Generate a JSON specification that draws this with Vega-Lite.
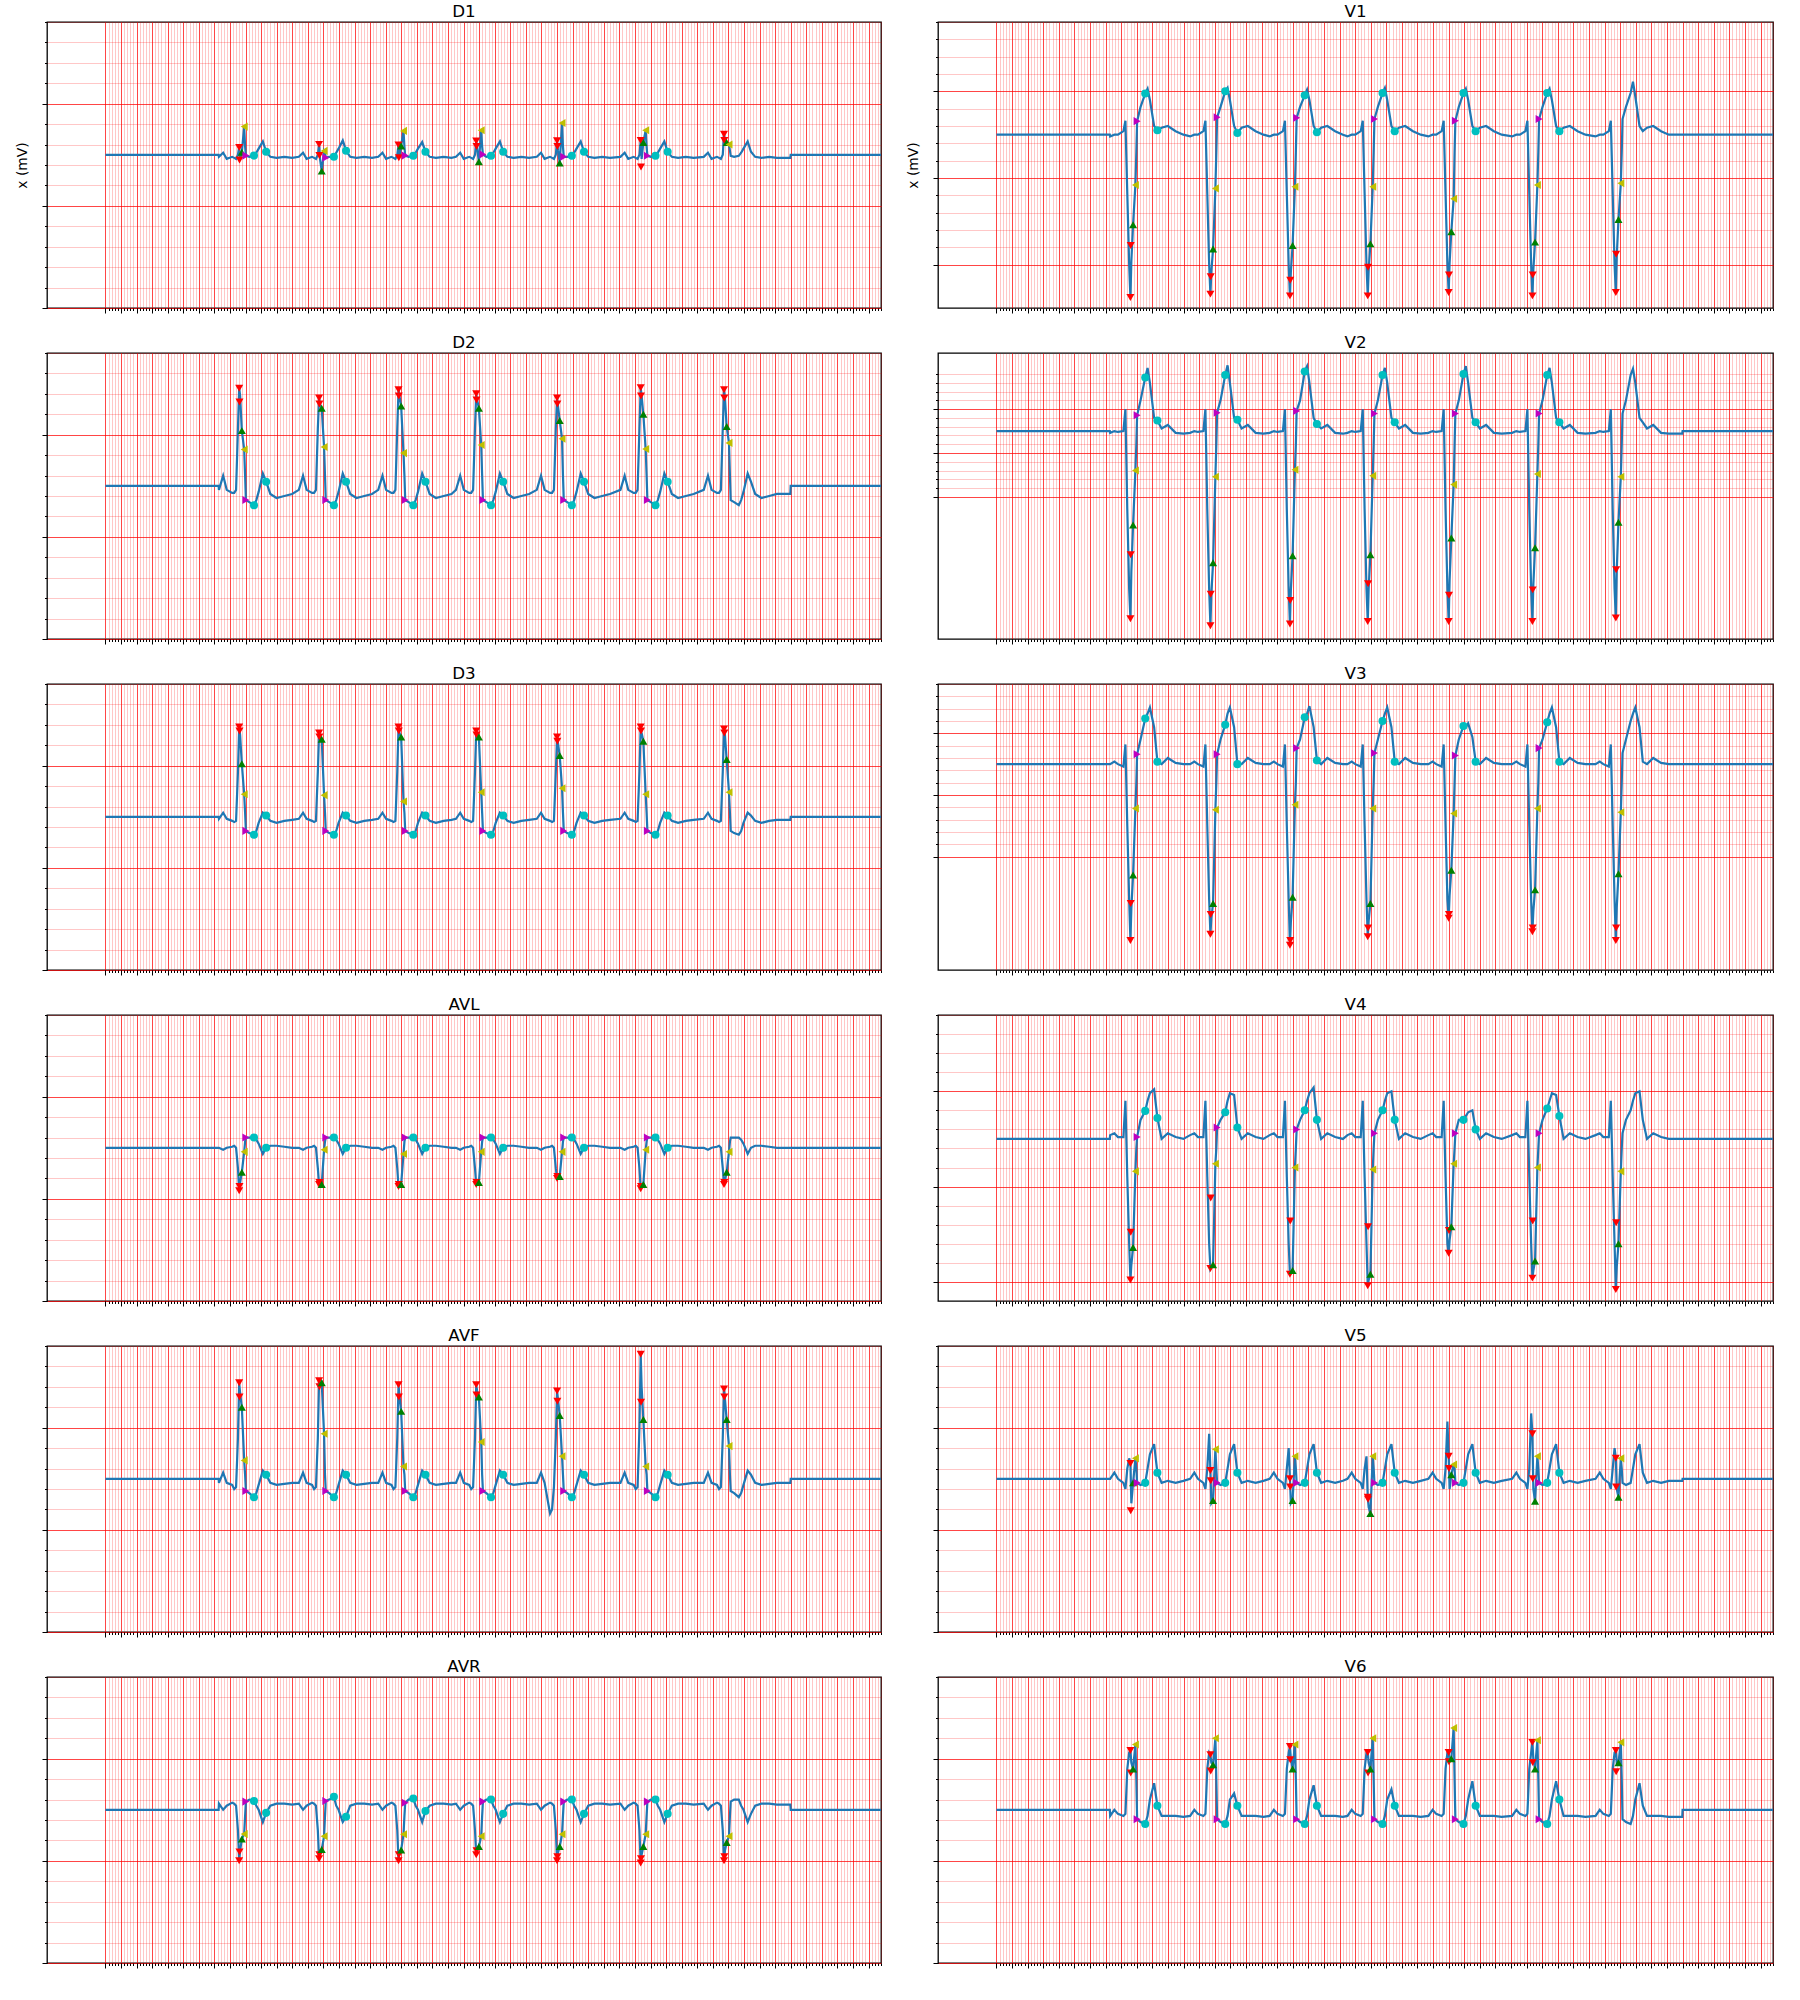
{
"$schema":"https://vega.github.io/schema/vega-lite/v6.json",
"padding":{"left":14,"top":3,"right":5,"bottom":5},
"bounds":"flush",
"columns":2,
"spacing":{"row":45,"column":57},
"config":{
"font":"DejaVu Sans",
"view":{"stroke":"black","strokeWidth":1.3},
"axis":{"labels":false,"domain":false,"tickColor":"black","tickWidth":1,"gridWidth":1,"titleFont":"DejaVu Sans","titleFontSize":13.9,"titleFontWeight":"normal","titleColor":"black","titlePadding":12},
"title":{"font":"DejaVu Sans","fontSize":16.7,"fontWeight":"normal","color":"black","offset":1,"frame":"group","anchor":"middle","baseline":"bottom"},
"line":{"color":"#1f77b4","strokeWidth":2.2},
"point":{"filled":true,"size":65,"opacity":1,"strokeWidth":0}
},
"datasets":{
"sig":[
{"n":0,"D1":0,"D2":0,"D3":0,"AVL":0,"AVF":0,"AVR":0,"V1":0,"V2":0,"V3":0,"V4":0,"V5":0,"V6":0},
{"n":727,"D1":0,"D2":0,"D3":0,"AVL":0,"AVF":0,"AVR":0,"V1":0,"V2":0,"V3":0,"V4":0,"V5":0,"V6":0},
{"n":729,"D1":-0.01,"D2":-0.02,"D3":-0.01,"AVL":0,"AVF":-0.02,"AVR":0.03,"V1":-0.01,"V2":-0.02,"V3":0,"V4":0.02,"V5":0,"V6":-0.03},
{"n":756,"D1":0.01,"D2":0.05,"D3":0.02,"AVL":-0.01,"AVF":0.03,"AVR":0,"V1":0,"V2":0,"V3":0.02,"V4":0.03,"V5":0.03,"V6":0},
{"n":779,"D1":-0.02,"D2":-0.02,"D3":-0.01,"AVL":0,"AVF":-0.02,"AVR":0.02,"V1":0,"V2":-0.01,"V3":0,"V4":0.01,"V5":0,"V6":-0.02},
{"n":814,"D1":-0.01,"D2":-0.035,"D3":-0.02,"AVL":0.005,"AVF":-0.03,"AVR":0.035,"V1":0.02,"V2":0,"V3":-0.02,"V4":0.01,"V5":-0.02,"V6":-0.03},
{"n":827,"D1":-0.015,"D2":-0.035,"D3":-0.025,"AVL":0.01,"AVF":-0.05,"AVR":0.03,"V1":0.08,"V2":0.25,"V3":0.16,"V4":0.2,"V5":-0.05,"V6":-0.02},
{"n":839,"D1":-0.02,"D2":-0.02,"D3":-0.02,"AVL":0,"AVF":-0.04,"AVR":0.02,"V1":-0.34,"V2":-0.9,"V3":-0.5,"V4":-0.2,"V5":0.05,"V6":0.2},
{"n":851,"D1":0,"D2":0.28,"D3":0.22,"AVL":-0.1,"AVF":0.2,"AVR":-0.1,"V1":-0.75,"V2":-1.8,"V3":-1.1,"V4":-0.55,"V5":0.1,"V6":0.28},
{"n":859,"D1":0.036,"D2":0.478,"D3":0.44,"AVL":-0.21,"AVF":0.47,"AVR":-0.25,"V1":-0.94,"V2":-2.14,"V3":-1.43,"V4":-0.74,"V5":0.075,"V6":0.29},
{"n":865,"D1":-0.02,"D2":0.44,"D3":0.4,"AVL":-0.17,"AVF":0.42,"AVR":-0.2,"V1":-0.73,"V2":-1.6,"V3":-1.17,"V4":-0.66,"V5":-0.12,"V6":0.23},
{"n":876,"D1":0.012,"D2":0.27,"D3":0.26,"AVL":-0.12,"AVF":0.35,"AVR":-0.143,"V1":-0.52,"V2":-1.07,"V3":-0.9,"V4":-0.57,"V5":-0.02,"V6":0.2},
{"n":891,"D1":0.138,"D2":0.178,"D3":0.11,"AVL":-0.02,"AVF":0.09,"AVR":-0.119,"V1":-0.29,"V2":-0.45,"V3":-0.36,"V4":-0.17,"V5":0.1,"V6":0.32},
{"n":897,"D1":0.04,"D2":0.05,"D3":0.02,"AVL":0.03,"AVF":0.02,"AVR":-0.03,"V1":-0.1,"V2":-0.15,"V3":-0.15,"V4":-0.05,"V5":0.05,"V6":0.15},
{"n":902,"D1":-0.004,"D2":-0.07,"D3":-0.069,"AVL":0.05,"AVF":-0.06,"AVR":0.04,"V1":0.078,"V2":0.18,"V3":0.08,"V4":0.01,"V5":-0.02,"V6":-0.046},
{"n":924,"D1":-0.01,"D2":-0.08,"D3":-0.08,"AVL":0.05,"AVF":-0.07,"AVR":0.05,"V1":0.16,"V2":0.35,"V3":0.2,"V4":0.1,"V5":-0.03,"V6":-0.06},
{"n":954,"D1":-0.004,"D2":-0.095,"D3":-0.088,"AVL":0.05,"AVF":-0.09,"AVR":0.043,"V1":0.237,"V2":0.61,"V3":0.37,"V4":0.147,"V5":-0.02,"V6":-0.07},
{"n":969,"D1":0.01,"D2":-0.07,"D3":-0.07,"AVL":0.04,"AVF":-0.07,"AVR":0.02,"V1":0.265,"V2":0.72,"V3":0.41,"V4":0.2,"V5":0.05,"V6":-0.03},
{"n":984,"D1":0.03,"D2":-0.03,"D3":-0.03,"AVL":0.02,"AVF":-0.03,"AVR":0,"V1":0.2,"V2":0.55,"V3":0.46,"V4":0.24,"V5":0.12,"V6":0.05},
{"n":1011,"D1":0.065,"D2":0.06,"D3":0.02,"AVL":-0.03,"AVF":0.04,"AVR":-0.06,"V1":0.05,"V2":0.15,"V3":0.3,"V4":0.26,"V5":0.17,"V6":0.13},
{"n":1032,"D1":0.015,"D2":0.02,"D3":0.006,"AVL":0,"AVF":0.02,"AVR":-0.015,"V1":0.026,"V2":0.12,"V3":0.02,"V4":0.11,"V5":0.03,"V6":0.02},
{"n":1059,"D1":-0.01,"D2":-0.04,"D3":-0.02,"AVL":0.01,"AVF":-0.02,"AVR":0.02,"V1":0.04,"V2":0.03,"V3":0,"V4":0,"V5":-0.02,"V6":-0.03},
{"n":1099,"D1":-0.015,"D2":-0.06,"D3":-0.03,"AVL":0.01,"AVF":-0.03,"AVR":0.03,"V1":0.05,"V2":0.07,"V3":0.05,"V4":0.03,"V5":-0.01,"V6":-0.03},
{"n":1149,"D1":-0.01,"D2":-0.05,"D3":-0.02,"AVL":0.005,"AVF":-0.025,"AVR":0.03,"V1":0.02,"V2":-0.02,"V3":0.01,"V4":0.01,"V5":-0.02,"V6":-0.03},
{"n":1199,"D1":-0.015,"D2":-0.04,"D3":-0.015,"AVL":0,"AVF":-0.02,"AVR":0.025,"V1":0,"V2":-0.03,"V3":0,"V4":0,"V5":-0.01,"V6":-0.035},
{"n":1242,"D1":-0.01,"D2":-0.02,"D3":-0.01,"AVL":0,"AVF":-0.02,"AVR":0.03,"V1":-0.01,"V2":-0.02,"V3":0,"V4":0.02,"V5":0,"V6":-0.03},
{"n":1269,"D1":0.01,"D2":0.05,"D3":0.02,"AVL":-0.01,"AVF":0.03,"AVR":0,"V1":0,"V2":0,"V3":0.02,"V4":0.03,"V5":0.03,"V6":0},
{"n":1292,"D1":-0.02,"D2":-0.02,"D3":-0.01,"AVL":0,"AVF":-0.02,"AVR":0.02,"V1":0,"V2":-0.01,"V3":0,"V4":0.01,"V5":0,"V6":-0.02},
{"n":1327,"D1":-0.01,"D2":-0.035,"D3":-0.02,"AVL":0.005,"AVF":-0.03,"AVR":0.035,"V1":0.02,"V2":0,"V3":-0.02,"V4":0.01,"V5":-0.02,"V6":-0.03},
{"n":1340,"D1":-0.015,"D2":-0.035,"D3":-0.025,"AVL":0.01,"AVF":-0.05,"AVR":0.03,"V1":0.08,"V2":0.25,"V3":0.16,"V4":0.2,"V5":-0.05,"V6":-0.02},
{"n":1352,"D1":-0.02,"D2":-0.02,"D3":-0.02,"AVL":0,"AVF":-0.04,"AVR":0.02,"V1":-0.34,"V2":-0.9,"V3":-0.5,"V4":-0.2,"V5":0.05,"V6":0.2},
{"n":1364,"D1":0,"D2":0.28,"D3":0.22,"AVL":-0.1,"AVF":0.2,"AVR":-0.1,"V1":-0.75,"V2":-1.8,"V3":-1.1,"V4":-0.55,"V5":0.22,"V6":0.28},
{"n":1372,"D1":0.051,"D2":0.43,"D3":0.41,"AVL":-0.18,"AVF":0.48,"AVR":-0.24,"V1":-0.92,"V2":-2.22,"V3":-1.38,"V4":-0.68,"V5":0.04,"V6":0.27},
{"n":1378,"D1":-0.02,"D2":0.4,"D3":0.38,"AVL":-0.17,"AVF":0.46,"AVR":-0.2,"V1":-0.79,"V2":-1.86,"V3":-1.25,"V4":-0.67,"V5":-0.12,"V6":0.23},
{"n":1389,"D1":-0.08,"D2":0.38,"D3":0.38,"AVL":-0.18,"AVF":0.47,"AVR":-0.194,"V1":-0.66,"V2":-1.5,"V3":-1.13,"V4":-0.66,"V5":-0.106,"V6":0.22},
{"n":1404,"D1":0.019,"D2":0.19,"D3":0.106,"AVL":-0.01,"AVF":0.22,"AVR":-0.13,"V1":-0.31,"V2":-0.52,"V3":-0.37,"V4":-0.13,"V5":0.144,"V6":0.35},
{"n":1410,"D1":0.01,"D2":0.05,"D3":0.02,"AVL":0.03,"AVF":0.02,"AVR":-0.03,"V1":-0.1,"V2":-0.15,"V3":-0.15,"V4":-0.05,"V5":0.05,"V6":0.15},
{"n":1415,"D1":-0.014,"D2":-0.07,"D3":-0.069,"AVL":0.05,"AVF":-0.06,"AVR":0.043,"V1":0.1,"V2":0.21,"V3":0.08,"V4":0.06,"V5":-0.02,"V6":-0.046},
{"n":1437,"D1":-0.01,"D2":-0.08,"D3":-0.08,"AVL":0.05,"AVF":-0.07,"AVR":0.05,"V1":0.16,"V2":0.35,"V3":0.2,"V4":0.1,"V5":-0.03,"V6":-0.06},
{"n":1467,"D1":-0.01,"D2":-0.095,"D3":-0.088,"AVL":0.05,"AVF":-0.09,"AVR":0.064,"V1":0.25,"V2":0.64,"V3":0.32,"V4":0.14,"V5":-0.02,"V6":-0.07},
{"n":1482,"D1":0.01,"D2":-0.07,"D3":-0.07,"AVL":0.04,"AVF":-0.07,"AVR":0.02,"V1":0.27,"V2":0.75,"V3":0.41,"V4":0.2,"V5":0.05,"V6":-0.03},
{"n":1497,"D1":0.03,"D2":-0.03,"D3":-0.03,"AVL":0.02,"AVF":-0.03,"AVR":0,"V1":0.2,"V2":0.55,"V3":0.46,"V4":0.24,"V5":0.12,"V6":0.05},
{"n":1524,"D1":0.07,"D2":0.06,"D3":0.02,"AVL":-0.03,"AVF":0.04,"AVR":-0.06,"V1":0.05,"V2":0.15,"V3":0.3,"V4":0.23,"V5":0.17,"V6":0.08},
{"n":1545,"D1":0.02,"D2":0.02,"D3":0.006,"AVL":0,"AVF":0.02,"AVR":-0.034,"V1":0.01,"V2":0.13,"V3":0,"V4":0.06,"V5":0.03,"V6":0.02},
{"n":1572,"D1":-0.01,"D2":-0.04,"D3":-0.02,"AVL":0.01,"AVF":-0.02,"AVR":0.02,"V1":0.04,"V2":0.03,"V3":0,"V4":0,"V5":-0.02,"V6":-0.03},
{"n":1612,"D1":-0.015,"D2":-0.06,"D3":-0.03,"AVL":0.01,"AVF":-0.03,"AVR":0.03,"V1":0.05,"V2":0.07,"V3":0.05,"V4":0.03,"V5":-0.01,"V6":-0.03},
{"n":1662,"D1":-0.01,"D2":-0.05,"D3":-0.02,"AVL":0.005,"AVF":-0.025,"AVR":0.03,"V1":0.02,"V2":-0.02,"V3":0.01,"V4":0.01,"V5":-0.02,"V6":-0.03},
{"n":1712,"D1":-0.015,"D2":-0.04,"D3":-0.015,"AVL":0,"AVF":-0.02,"AVR":0.025,"V1":0,"V2":-0.03,"V3":0,"V4":0,"V5":-0.01,"V6":-0.035},
{"n":1752,"D1":-0.01,"D2":-0.02,"D3":-0.01,"AVL":0,"AVF":-0.02,"AVR":0.03,"V1":-0.01,"V2":-0.02,"V3":0,"V4":0.02,"V5":0,"V6":-0.03},
{"n":1779,"D1":0.01,"D2":0.05,"D3":0.02,"AVL":-0.01,"AVF":0.03,"AVR":0,"V1":0,"V2":0,"V3":0.02,"V4":0.03,"V5":0.03,"V6":0},
{"n":1802,"D1":-0.02,"D2":-0.02,"D3":-0.01,"AVL":0,"AVF":-0.02,"AVR":0.02,"V1":0,"V2":-0.01,"V3":0,"V4":0.01,"V5":0,"V6":-0.02},
{"n":1837,"D1":-0.01,"D2":-0.035,"D3":-0.02,"AVL":0.005,"AVF":-0.03,"AVR":0.035,"V1":0.02,"V2":0,"V3":-0.02,"V4":0.01,"V5":-0.02,"V6":-0.03},
{"n":1850,"D1":-0.015,"D2":-0.035,"D3":-0.025,"AVL":0.01,"AVF":-0.05,"AVR":0.03,"V1":0.08,"V2":0.25,"V3":0.16,"V4":0.2,"V5":-0.05,"V6":-0.02},
{"n":1862,"D1":-0.02,"D2":-0.02,"D3":-0.02,"AVL":0,"AVF":-0.04,"AVR":0.02,"V1":-0.34,"V2":-0.9,"V3":-0.5,"V4":-0.2,"V5":0.05,"V6":0.2},
{"n":1874,"D1":0,"D2":0.28,"D3":0.22,"AVL":-0.1,"AVF":0.2,"AVR":-0.1,"V1":-0.75,"V2":-1.8,"V3":-1.1,"V4":-0.55,"V5":0.15,"V6":0.28},
{"n":1882,"D1":0.048,"D2":0.47,"D3":0.44,"AVL":-0.19,"AVF":0.46,"AVR":-0.25,"V1":-0.93,"V2":-2.2,"V3":-1.47,"V4":-0.71,"V5":0,"V6":0.31},
{"n":1888,"D1":-0.01,"D2":0.44,"D3":0.41,"AVL":-0.18,"AVF":0.41,"AVR":-0.21,"V1":-0.79,"V2":-1.81,"V3":-1.28,"V4":-0.7,"V5":-0.12,"V6":0.25},
{"n":1899,"D1":0.043,"D2":0.39,"D3":0.39,"AVL":-0.18,"AVF":0.33,"AVR":-0.197,"V1":-0.64,"V2":-1.42,"V3":-1.08,"V4":-0.69,"V5":-0.106,"V6":0.2},
{"n":1914,"D1":0.117,"D2":0.16,"D3":0.075,"AVL":-0.03,"AVF":0.06,"AVR":-0.12,"V1":-0.3,"V2":-0.44,"V3":-0.33,"V4":-0.15,"V5":0.11,"V6":0.32},
{"n":1920,"D1":0.04,"D2":0.05,"D3":0.02,"AVL":0.03,"AVF":0.02,"AVR":-0.03,"V1":-0.1,"V2":-0.15,"V3":-0.15,"V4":-0.05,"V5":0.05,"V6":0.15},
{"n":1925,"D1":-0.004,"D2":-0.07,"D3":-0.069,"AVL":0.05,"AVF":-0.06,"AVR":0.034,"V1":0.097,"V2":0.23,"V3":0.13,"V4":0.05,"V5":-0.02,"V6":-0.046},
{"n":1947,"D1":-0.01,"D2":-0.08,"D3":-0.08,"AVL":0.05,"AVF":-0.07,"AVR":0.05,"V1":0.16,"V2":0.35,"V3":0.2,"V4":0.1,"V5":-0.03,"V6":-0.06},
{"n":1977,"D1":-0.005,"D2":-0.095,"D3":-0.088,"AVL":0.05,"AVF":-0.09,"AVR":0.055,"V1":0.227,"V2":0.68,"V3":0.38,"V4":0.15,"V5":-0.02,"V6":-0.07},
{"n":1992,"D1":0.01,"D2":-0.07,"D3":-0.07,"AVL":0.04,"AVF":-0.07,"AVR":0.02,"V1":0.26,"V2":0.74,"V3":0.41,"V4":0.2,"V5":0.05,"V6":-0.03},
{"n":2007,"D1":0.03,"D2":-0.03,"D3":-0.03,"AVL":0.02,"AVF":-0.03,"AVR":0,"V1":0.2,"V2":0.55,"V3":0.47,"V4":0.24,"V5":0.12,"V6":0.05},
{"n":2034,"D1":0.062,"D2":0.06,"D3":0.02,"AVL":-0.03,"AVF":0.04,"AVR":-0.06,"V1":0.05,"V2":0.15,"V3":0.3,"V4":0.27,"V5":0.17,"V6":0.12},
{"n":2055,"D1":0.015,"D2":0.02,"D3":0.006,"AVL":0,"AVF":0.02,"AVR":-0.006,"V1":0.014,"V2":0.08,"V3":0.03,"V4":0.1,"V5":0.03,"V6":0.02},
{"n":2082,"D1":-0.01,"D2":-0.04,"D3":-0.02,"AVL":0.01,"AVF":-0.02,"AVR":0.02,"V1":0.04,"V2":0.03,"V3":0,"V4":0,"V5":-0.02,"V6":-0.03},
{"n":2122,"D1":-0.015,"D2":-0.06,"D3":-0.03,"AVL":0.01,"AVF":-0.03,"AVR":0.03,"V1":0.05,"V2":0.07,"V3":0.05,"V4":0.03,"V5":-0.01,"V6":-0.03},
{"n":2172,"D1":-0.01,"D2":-0.05,"D3":-0.02,"AVL":0.005,"AVF":-0.025,"AVR":0.03,"V1":0.02,"V2":-0.02,"V3":0.01,"V4":0.01,"V5":-0.02,"V6":-0.03},
{"n":2222,"D1":-0.015,"D2":-0.04,"D3":-0.015,"AVL":0,"AVF":-0.02,"AVR":0.025,"V1":0,"V2":-0.03,"V3":0,"V4":0,"V5":-0.01,"V6":-0.035},
{"n":2251,"D1":-0.01,"D2":-0.02,"D3":-0.01,"AVL":0,"AVF":-0.02,"AVR":0.03,"V1":-0.01,"V2":-0.02,"V3":0,"V4":0.02,"V5":0,"V6":-0.03},
{"n":2278,"D1":0.01,"D2":0.05,"D3":0.02,"AVL":-0.01,"AVF":0.03,"AVR":0,"V1":0,"V2":0,"V3":0.02,"V4":0.03,"V5":0.03,"V6":0},
{"n":2301,"D1":-0.02,"D2":-0.02,"D3":-0.01,"AVL":0,"AVF":-0.02,"AVR":0.02,"V1":0,"V2":-0.01,"V3":0,"V4":0.01,"V5":0,"V6":-0.02},
{"n":2336,"D1":-0.01,"D2":-0.035,"D3":-0.02,"AVL":0.005,"AVF":-0.03,"AVR":0.035,"V1":0.02,"V2":0,"V3":-0.02,"V4":0.01,"V5":-0.02,"V6":-0.03},
{"n":2349,"D1":-0.015,"D2":-0.035,"D3":-0.025,"AVL":0.01,"AVF":-0.05,"AVR":0.03,"V1":0.08,"V2":0.25,"V3":0.16,"V4":0.2,"V5":-0.05,"V6":-0.02},
{"n":2361,"D1":-0.02,"D2":-0.02,"D3":-0.02,"AVL":0,"AVF":-0.04,"AVR":0.02,"V1":-0.34,"V2":-0.9,"V3":-0.5,"V4":-0.2,"V5":0.05,"V6":0.2},
{"n":2373,"D1":0,"D2":0.28,"D3":0.22,"AVL":-0.1,"AVF":0.2,"AVR":-0.1,"V1":-0.75,"V2":-1.8,"V3":-1.1,"V4":-0.55,"V5":0.11,"V6":0.28},
{"n":2381,"D1":0.068,"D2":0.45,"D3":0.42,"AVL":-0.18,"AVF":0.46,"AVR":-0.22,"V1":-0.93,"V2":-2.17,"V3":-1.4,"V4":-0.77,"V5":-0.09,"V6":0.28},
{"n":2387,"D1":0.03,"D2":0.42,"D3":0.4,"AVL":-0.17,"AVF":0.43,"AVR":-0.2,"V1":-0.78,"V2":-1.79,"V3":-1.27,"V4":-0.74,"V5":-0.14,"V6":0.23},
{"n":2398,"D1":-0.034,"D2":0.38,"D3":0.39,"AVL":-0.17,"AVF":0.4,"AVR":-0.18,"V1":-0.63,"V2":-1.41,"V3":-1.13,"V4":-0.71,"V5":-0.17,"V6":0.2},
{"n":2413,"D1":0.12,"D2":0.2,"D3":0.12,"AVL":-0.02,"AVF":0.18,"AVR":-0.13,"V1":-0.3,"V2":-0.51,"V3":-0.36,"V4":-0.16,"V5":0.11,"V6":0.35},
{"n":2419,"D1":0.04,"D2":0.05,"D3":0.02,"AVL":0.03,"AVF":0.02,"AVR":-0.03,"V1":-0.1,"V2":-0.15,"V3":-0.15,"V4":-0.05,"V5":0.05,"V6":0.15},
{"n":2424,"D1":0.002,"D2":-0.07,"D3":-0.069,"AVL":0.05,"AVF":-0.06,"AVR":0.04,"V1":0.09,"V2":0.2,"V3":0.09,"V4":0.03,"V5":-0.02,"V6":-0.046},
{"n":2446,"D1":-0.01,"D2":-0.08,"D3":-0.08,"AVL":0.05,"AVF":-0.07,"AVR":0.05,"V1":0.16,"V2":0.35,"V3":0.2,"V4":0.1,"V5":-0.03,"V6":-0.06},
{"n":2476,"D1":-0.005,"D2":-0.095,"D3":-0.088,"AVL":0.05,"AVF":-0.09,"AVR":0.05,"V1":0.24,"V2":0.64,"V3":0.35,"V4":0.15,"V5":-0.02,"V6":-0.07},
{"n":2491,"D1":0.01,"D2":-0.07,"D3":-0.07,"AVL":0.04,"AVF":-0.07,"AVR":0.02,"V1":0.27,"V2":0.72,"V3":0.41,"V4":0.2,"V5":0.05,"V6":-0.03},
{"n":2506,"D1":0.03,"D2":-0.03,"D3":-0.03,"AVL":0.02,"AVF":-0.03,"AVR":0,"V1":0.2,"V2":0.55,"V3":0.46,"V4":0.24,"V5":0.12,"V6":0.05},
{"n":2533,"D1":0.065,"D2":0.06,"D3":0.02,"AVL":-0.03,"AVF":0.04,"AVR":-0.06,"V1":0.05,"V2":0.15,"V3":0.3,"V4":0.25,"V5":0.17,"V6":0.1},
{"n":2554,"D1":0.015,"D2":0.02,"D3":0.006,"AVL":0,"AVF":0.02,"AVR":-0.02,"V1":0.02,"V2":0.1,"V3":0.02,"V4":0.1,"V5":0.03,"V6":0.02},
{"n":2581,"D1":-0.01,"D2":-0.04,"D3":-0.02,"AVL":0.01,"AVF":-0.02,"AVR":0.02,"V1":0.04,"V2":0.03,"V3":0,"V4":0,"V5":-0.02,"V6":-0.03},
{"n":2621,"D1":-0.015,"D2":-0.06,"D3":-0.03,"AVL":0.01,"AVF":-0.03,"AVR":0.03,"V1":0.05,"V2":0.07,"V3":0.05,"V4":0.03,"V5":-0.01,"V6":-0.03},
{"n":2671,"D1":-0.01,"D2":-0.05,"D3":-0.02,"AVL":0.005,"AVF":-0.025,"AVR":0.03,"V1":0.02,"V2":-0.02,"V3":0.01,"V4":0.01,"V5":-0.02,"V6":-0.03},
{"n":2721,"D1":-0.015,"D2":-0.04,"D3":-0.015,"AVL":0,"AVF":-0.02,"AVR":0.025,"V1":0,"V2":-0.03,"V3":0,"V4":0,"V5":-0.01,"V6":-0.035},
{"n":2770,"D1":-0.01,"D2":-0.02,"D3":-0.01,"AVL":0,"AVF":-0.02,"AVR":0.03,"V1":-0.01,"V2":-0.02,"V3":0,"V4":0.02,"V5":0,"V6":-0.03},
{"n":2797,"D1":0.01,"D2":0.05,"D3":0.02,"AVL":-0.01,"AVF":0.03,"AVR":0,"V1":0,"V2":0,"V3":0.02,"V4":0.03,"V5":0.03,"V6":0},
{"n":2820,"D1":-0.02,"D2":-0.02,"D3":-0.01,"AVL":0,"AVF":-0.02,"AVR":0.02,"V1":0,"V2":-0.01,"V3":0,"V4":0.01,"V5":0,"V6":-0.02},
{"n":2855,"D1":-0.01,"D2":-0.035,"D3":-0.02,"AVL":0.005,"AVF":-0.17,"AVR":0.035,"V1":0.02,"V2":0,"V3":-0.02,"V4":0.01,"V5":-0.02,"V6":-0.03},
{"n":2868,"D1":-0.015,"D2":-0.035,"D3":-0.025,"AVL":0.01,"AVF":-0.15,"AVR":0.03,"V1":0.08,"V2":0.25,"V3":0.16,"V4":0.2,"V5":-0.05,"V6":-0.02},
{"n":2880,"D1":-0.02,"D2":-0.02,"D3":-0.02,"AVL":0,"AVF":-0.04,"AVR":0.02,"V1":-0.34,"V2":-0.9,"V3":-0.5,"V4":-0.2,"V5":0.05,"V6":0.2},
{"n":2892,"D1":0,"D2":0.28,"D3":0.22,"AVL":-0.1,"AVF":0.2,"AVR":-0.1,"V1":-0.75,"V2":-1.8,"V3":-1.1,"V4":-0.55,"V5":0.28,"V6":0.28},
{"n":2900,"D1":0.069,"D2":0.43,"D3":0.39,"AVL":-0.15,"AVF":0.43,"AVR":-0.25,"V1":-0.91,"V2":-2.17,"V3":-1.25,"V4":-0.6,"V5":0.11,"V6":0.28},
{"n":2906,"D1":0.02,"D2":0.39,"D3":0.36,"AVL":-0.15,"AVF":0.39,"AVR":-0.21,"V1":-0.74,"V2":-1.7,"V3":-1.06,"V4":-0.53,"V5":-0.05,"V6":0.24},
{"n":2917,"D1":-0.04,"D2":0.32,"D3":0.3,"AVL":-0.14,"AVF":0.31,"AVR":-0.18,"V1":-0.56,"V2":-1.22,"V3":-0.86,"V4":-0.46,"V5":0.02,"V6":0.25},
{"n":2932,"D1":0.156,"D2":0.23,"D3":0.14,"AVL":-0.02,"AVF":0.11,"AVR":-0.12,"V1":-0.37,"V2":-0.61,"V3":-0.4,"V4":-0.13,"V5":0.07,"V6":0.4},
{"n":2938,"D1":0.04,"D2":0.05,"D3":0.02,"AVL":0.03,"AVF":0.02,"AVR":-0.03,"V1":-0.1,"V2":-0.15,"V3":-0.15,"V4":-0.05,"V5":0.05,"V6":0.15},
{"n":2943,"D1":-0.01,"D2":-0.07,"D3":-0.069,"AVL":0.05,"AVF":-0.06,"AVR":0.04,"V1":0.08,"V2":0.2,"V3":0.07,"V4":0.03,"V5":-0.02,"V6":-0.046},
{"n":2965,"D1":-0.01,"D2":-0.08,"D3":-0.08,"AVL":0.05,"AVF":-0.07,"AVR":0.05,"V1":0.16,"V2":0.35,"V3":0.2,"V4":0.1,"V5":-0.03,"V6":-0.06},
{"n":2995,"D1":-0.005,"D2":-0.095,"D3":-0.088,"AVL":0.05,"AVF":-0.09,"AVR":0.05,"V1":0.24,"V2":0.65,"V3":0.31,"V4":0.1,"V5":-0.02,"V6":-0.07},
{"n":3010,"D1":0.01,"D2":-0.07,"D3":-0.07,"AVL":0.04,"AVF":-0.07,"AVR":0.02,"V1":0.265,"V2":0.74,"V3":0.3,"V4":0.12,"V5":0.05,"V6":-0.03},
{"n":3025,"D1":0.03,"D2":-0.03,"D3":-0.03,"AVL":0.02,"AVF":-0.03,"AVR":0,"V1":0.2,"V2":0.55,"V3":0.33,"V4":0.14,"V5":0.12,"V6":0.05},
{"n":3052,"D1":0.065,"D2":0.06,"D3":0.02,"AVL":-0.03,"AVF":0.04,"AVR":-0.06,"V1":0.05,"V2":0.15,"V3":0.22,"V4":0.15,"V5":0.17,"V6":0.14},
{"n":3073,"D1":0.015,"D2":0.02,"D3":0.006,"AVL":0,"AVF":0.02,"AVR":-0.02,"V1":0.02,"V2":0.1,"V3":0.02,"V4":0.05,"V5":0.03,"V6":0.02},
{"n":3100,"D1":-0.01,"D2":-0.04,"D3":-0.02,"AVL":0.01,"AVF":-0.02,"AVR":0.02,"V1":0.04,"V2":0.03,"V3":0,"V4":0,"V5":-0.02,"V6":-0.03},
{"n":3140,"D1":-0.015,"D2":-0.06,"D3":-0.03,"AVL":0.01,"AVF":-0.03,"AVR":0.03,"V1":0.05,"V2":0.07,"V3":0.05,"V4":0.03,"V5":-0.01,"V6":-0.03},
{"n":3190,"D1":-0.01,"D2":-0.05,"D3":-0.02,"AVL":0.005,"AVF":-0.025,"AVR":0.03,"V1":0.02,"V2":-0.02,"V3":0.01,"V4":0.01,"V5":-0.02,"V6":-0.03},
{"n":3240,"D1":-0.015,"D2":-0.04,"D3":-0.015,"AVL":0,"AVF":-0.02,"AVR":0.025,"V1":0,"V2":-0.03,"V3":0,"V4":0,"V5":-0.01,"V6":-0.035},
{"n":3307,"D1":-0.01,"D2":-0.02,"D3":-0.01,"AVL":0,"AVF":-0.02,"AVR":0.03,"V1":-0.01,"V2":-0.02,"V3":0,"V4":0.02,"V5":0,"V6":-0.03},
{"n":3334,"D1":0.01,"D2":0.05,"D3":0.02,"AVL":-0.01,"AVF":0.03,"AVR":0,"V1":0,"V2":0,"V3":0.02,"V4":0.03,"V5":0.03,"V6":0},
{"n":3357,"D1":-0.02,"D2":-0.02,"D3":-0.01,"AVL":0,"AVF":-0.02,"AVR":0.02,"V1":0,"V2":-0.01,"V3":0,"V4":0.01,"V5":0,"V6":-0.02},
{"n":3392,"D1":-0.01,"D2":-0.035,"D3":-0.02,"AVL":0.005,"AVF":-0.03,"AVR":0.035,"V1":0.02,"V2":0,"V3":-0.02,"V4":0.01,"V5":-0.02,"V6":-0.03},
{"n":3405,"D1":-0.015,"D2":-0.035,"D3":-0.025,"AVL":0.01,"AVF":-0.05,"AVR":0.03,"V1":0.08,"V2":0.25,"V3":0.16,"V4":0.2,"V5":-0.05,"V6":-0.02},
{"n":3417,"D1":-0.02,"D2":-0.02,"D3":-0.02,"AVL":0,"AVF":-0.04,"AVR":0.02,"V1":-0.34,"V2":-0.9,"V3":-0.5,"V4":-0.2,"V5":0.05,"V6":0.2},
{"n":3429,"D1":0,"D2":0.28,"D3":0.22,"AVL":-0.1,"AVF":0.25,"AVR":-0.1,"V1":-0.75,"V2":-1.8,"V3":-1.1,"V4":-0.55,"V5":0.32,"V6":0.28},
{"n":3437,"D1":0.07,"D2":0.48,"D3":0.44,"AVL":-0.2,"AVF":0.61,"AVR":-0.26,"V1":-0.93,"V2":-2.17,"V3":-1.36,"V4":-0.73,"V5":0.22,"V6":0.33},
{"n":3443,"D1":-0.02,"D2":0.44,"D3":0.41,"AVL":-0.19,"AVF":0.45,"AVR":-0.22,"V1":-0.78,"V2":-1.75,"V3":-1.19,"V4":-0.69,"V5":-0.05,"V6":0.25},
{"n":3454,"D1":0.06,"D2":0.35,"D3":0.37,"AVL":-0.18,"AVF":0.29,"AVR":-0.18,"V1":-0.62,"V2":-1.33,"V3":-1.02,"V4":-0.64,"V5":-0.11,"V6":0.2},
{"n":3469,"D1":0.12,"D2":0.18,"D3":0.11,"AVL":-0.01,"AVF":0.06,"AVR":-0.12,"V1":-0.29,"V2":-0.49,"V3":-0.36,"V4":-0.15,"V5":0.11,"V6":0.34},
{"n":3475,"D1":0.04,"D2":0.05,"D3":0.02,"AVL":0.03,"AVF":0.02,"AVR":-0.03,"V1":-0.1,"V2":-0.15,"V3":-0.15,"V4":-0.05,"V5":0.05,"V6":0.15},
{"n":3480,"D1":-0.005,"D2":-0.07,"D3":-0.069,"AVL":0.05,"AVF":-0.06,"AVR":0.04,"V1":0.09,"V2":0.2,"V3":0.13,"V4":0.03,"V5":-0.02,"V6":-0.046},
{"n":3502,"D1":-0.01,"D2":-0.08,"D3":-0.08,"AVL":0.05,"AVF":-0.07,"AVR":0.05,"V1":0.16,"V2":0.35,"V3":0.2,"V4":0.1,"V5":-0.03,"V6":-0.06},
{"n":3532,"D1":-0.005,"D2":-0.095,"D3":-0.088,"AVL":0.05,"AVF":-0.09,"AVR":0.05,"V1":0.24,"V2":0.64,"V3":0.34,"V4":0.16,"V5":-0.02,"V6":-0.07},
{"n":3547,"D1":0.01,"D2":-0.07,"D3":-0.07,"AVL":0.04,"AVF":-0.07,"AVR":0.02,"V1":0.265,"V2":0.72,"V3":0.41,"V4":0.2,"V5":0.05,"V6":-0.03},
{"n":3562,"D1":0.03,"D2":-0.03,"D3":-0.03,"AVL":0.02,"AVF":-0.03,"AVR":0,"V1":0.2,"V2":0.55,"V3":0.46,"V4":0.24,"V5":0.12,"V6":0.05},
{"n":3589,"D1":0.065,"D2":0.06,"D3":0.02,"AVL":-0.03,"AVF":0.04,"AVR":-0.06,"V1":0.05,"V2":0.15,"V3":0.3,"V4":0.23,"V5":0.17,"V6":0.14},
{"n":3610,"D1":0.015,"D2":0.02,"D3":0.006,"AVL":0,"AVF":0.02,"AVR":-0.02,"V1":0.02,"V2":0.1,"V3":0.02,"V4":0.12,"V5":0.03,"V6":0.05},
{"n":3637,"D1":-0.01,"D2":-0.04,"D3":-0.02,"AVL":0.01,"AVF":-0.02,"AVR":0.02,"V1":0.04,"V2":0.03,"V3":0,"V4":0,"V5":-0.02,"V6":-0.03},
{"n":3677,"D1":-0.015,"D2":-0.06,"D3":-0.03,"AVL":0.01,"AVF":-0.03,"AVR":0.03,"V1":0.05,"V2":0.07,"V3":0.05,"V4":0.03,"V5":-0.01,"V6":-0.03},
{"n":3727,"D1":-0.01,"D2":-0.05,"D3":-0.02,"AVL":0.005,"AVF":-0.025,"AVR":0.03,"V1":0.02,"V2":-0.02,"V3":0.01,"V4":0.01,"V5":-0.02,"V6":-0.03},
{"n":3777,"D1":-0.015,"D2":-0.04,"D3":-0.015,"AVL":0,"AVF":-0.02,"AVR":0.025,"V1":0,"V2":-0.03,"V3":0,"V4":0,"V5":-0.01,"V6":-0.035},
{"n":3842,"D1":-0.01,"D2":-0.02,"D3":-0.01,"AVL":0,"AVF":-0.02,"AVR":0.03,"V1":-0.01,"V2":-0.02,"V3":0,"V4":0.02,"V5":0,"V6":-0.03},
{"n":3869,"D1":0.01,"D2":0.05,"D3":0.02,"AVL":-0.01,"AVF":0.03,"AVR":0,"V1":0,"V2":0,"V3":0.02,"V4":0.03,"V5":0.03,"V6":0},
{"n":3892,"D1":-0.02,"D2":-0.02,"D3":-0.01,"AVL":0,"AVF":-0.02,"AVR":0.02,"V1":0,"V2":-0.01,"V3":0,"V4":0.01,"V5":0,"V6":-0.02},
{"n":3927,"D1":-0.01,"D2":-0.035,"D3":-0.02,"AVL":0.005,"AVF":-0.03,"AVR":0.035,"V1":0.02,"V2":0,"V3":-0.02,"V4":0.01,"V5":-0.02,"V6":-0.03},
{"n":3940,"D1":-0.015,"D2":-0.035,"D3":-0.025,"AVL":0.01,"AVF":-0.05,"AVR":0.03,"V1":0.08,"V2":0.25,"V3":0.16,"V4":0.2,"V5":-0.05,"V6":-0.02},
{"n":3952,"D1":-0.02,"D2":-0.02,"D3":-0.02,"AVL":0,"AVF":-0.04,"AVR":0.02,"V1":-0.34,"V2":-0.9,"V3":-0.5,"V4":-0.2,"V5":0.05,"V6":0.2},
{"n":3964,"D1":0,"D2":0.28,"D3":0.22,"AVL":-0.1,"AVF":0.2,"AVR":-0.1,"V1":-0.75,"V2":-1.8,"V3":-1.1,"V4":-0.55,"V5":0.15,"V6":0.28},
{"n":3972,"D1":0.1,"D2":0.47,"D3":0.43,"AVL":-0.18,"AVF":0.44,"AVR":-0.25,"V1":-0.91,"V2":-2.13,"V3":-1.43,"V4":-0.79,"V5":0.1,"V6":0.29},
{"n":3978,"D1":0.07,"D2":0.43,"D3":0.4,"AVL":-0.16,"AVF":0.39,"AVR":-0.2,"V1":-0.7,"V2":-1.59,"V3":-1.16,"V4":-0.67,"V5":-0.05,"V6":0.23},
{"n":3989,"D1":0.06,"D2":0.29,"D3":0.28,"AVL":-0.12,"AVF":0.29,"AVR":-0.16,"V1":-0.49,"V2":-1.04,"V3":-0.89,"V4":-0.55,"V5":-0.09,"V6":0.23},
{"n":4004,"D1":0.05,"D2":0.21,"D3":0.12,"AVL":-0.02,"AVF":0.16,"AVR":-0.13,"V1":-0.28,"V2":-0.52,"V3":-0.39,"V4":-0.17,"V5":0.1,"V6":0.33},
{"n":4010,"D1":0.02,"D2":0.05,"D3":0.02,"AVL":0.03,"AVF":0.02,"AVR":-0.03,"V1":-0.1,"V2":-0.15,"V3":-0.15,"V4":-0.05,"V5":0.05,"V6":0.15},
{"n":4015,"D1":-0.005,"D2":-0.07,"D3":-0.069,"AVL":0.05,"AVF":-0.06,"AVR":0.04,"V1":0.09,"V2":0.2,"V3":0.09,"V4":0.03,"V5":-0.02,"V6":-0.046},
{"n":4037,"D1":-0.01,"D2":-0.08,"D3":-0.08,"AVL":0.05,"AVF":-0.07,"AVR":0.05,"V1":0.16,"V2":0.35,"V3":0.2,"V4":0.1,"V5":-0.03,"V6":-0.06},
{"n":4067,"D1":-0.005,"D2":-0.095,"D3":-0.088,"AVL":0.05,"AVF":-0.09,"AVR":0.05,"V1":0.24,"V2":0.64,"V3":0.35,"V4":0.15,"V5":-0.02,"V6":-0.07},
{"n":4082,"D1":0.01,"D2":-0.07,"D3":-0.07,"AVL":0.04,"AVF":-0.07,"AVR":0.02,"V1":0.306,"V2":0.71,"V3":0.41,"V4":0.2,"V5":0.05,"V6":-0.03},
{"n":4097,"D1":0.03,"D2":-0.03,"D3":-0.03,"AVL":0.02,"AVF":-0.03,"AVR":0,"V1":0.22,"V2":0.55,"V3":0.46,"V4":0.24,"V5":0.12,"V6":0.05},
{"n":4124,"D1":0.065,"D2":0.06,"D3":0.02,"AVL":-0.03,"AVF":0.04,"AVR":-0.06,"V1":0.05,"V2":0.15,"V3":0.3,"V4":0.25,"V5":0.17,"V6":0.13},
{"n":4145,"D1":0.015,"D2":0.02,"D3":0.006,"AVL":0,"AVF":0.02,"AVR":-0.02,"V1":0.02,"V2":0.1,"V3":0.02,"V4":0.1,"V5":0.03,"V6":0.02},
{"n":4172,"D1":-0.01,"D2":-0.04,"D3":-0.02,"AVL":0.01,"AVF":-0.02,"AVR":0.02,"V1":0.04,"V2":0.03,"V3":0,"V4":0,"V5":-0.02,"V6":-0.03},
{"n":4212,"D1":-0.015,"D2":-0.06,"D3":-0.03,"AVL":0.01,"AVF":-0.03,"AVR":0.03,"V1":0.05,"V2":0.07,"V3":0.05,"V4":0.03,"V5":-0.01,"V6":-0.03},
{"n":4262,"D1":-0.01,"D2":-0.05,"D3":-0.02,"AVL":0.005,"AVF":-0.025,"AVR":0.03,"V1":0.02,"V2":-0.02,"V3":0.01,"V4":0.01,"V5":-0.02,"V6":-0.03},
{"n":4312,"D1":-0.015,"D2":-0.04,"D3":-0.015,"AVL":0,"AVF":-0.02,"AVR":0.025,"V1":0,"V2":-0.03,"V3":0,"V4":0,"V5":-0.01,"V6":-0.035},
{"n":4398,"D1":-0.015,"D2":-0.04,"D3":-0.015,"AVL":0,"AVF":-0.02,"AVR":0.025,"V1":0,"V2":-0.03,"V3":0,"V4":0,"V5":-0.01,"V6":-0.035},
{"n":4400,"D1":0,"D2":0,"D3":0,"AVL":0,"AVF":0,"AVR":0,"V1":0,"V2":0,"V3":0,"V4":0,"V5":0,"V6":0},
{"n":4980,"D1":0,"D2":0,"D3":0,"AVL":0,"AVF":0,"AVR":0,"V1":0,"V2":0,"V3":0,"V4":0,"V5":0,"V6":0}
],
"mk":[
{"n":859,"m":"r","D1":0.036,"D2":0.478,"D3":0.44,"AVL":-0.21,"AVF":0.47,"AVR":-0.25,"V1":-0.94,"V2":-2.14,"V3":-1.43,"V4":-0.74,"V5":0.075,"V6":0.29},
{"n":861,"m":"r","D1":-0.026,"D2":0.41,"D3":0.42,"AVL":-0.19,"AVF":0.4,"AVR":-0.206,"V1":-0.64,"V2":-1.41,"V3":-1.13,"V4":-0.49,"V5":-0.156,"V6":0.18},
{"n":876,"m":"g","D1":0.012,"D2":0.27,"D3":0.26,"AVL":-0.12,"AVF":0.35,"AVR":-0.143,"V1":-0.52,"V2":-1.07,"V3":-0.9,"V4":-0.57,"V5":-0.02,"V6":0.2},
{"n":891,"m":"y","D1":0.138,"D2":0.178,"D3":0.11,"AVL":-0.02,"AVF":0.09,"AVR":-0.119,"V1":-0.29,"V2":-0.45,"V3":-0.36,"V4":-0.17,"V5":0.1,"V6":0.32},
{"n":902,"m":"m","D1":-0.004,"D2":-0.07,"D3":-0.069,"AVL":0.05,"AVF":-0.06,"AVR":0.04,"V1":0.078,"V2":0.18,"V3":0.08,"V4":0.01,"V5":-0.02,"V6":-0.046},
{"n":954,"m":"c","D1":-0.004,"D2":-0.095,"D3":-0.088,"AVL":0.05,"AVF":-0.09,"AVR":0.043,"V1":0.237,"V2":0.61,"V3":0.37,"V4":0.147,"V5":-0.02,"V6":-0.07},
{"n":1032,"m":"c","D1":0.015,"D2":0.02,"D3":0.006,"AVL":0,"AVF":0.02,"AVR":-0.015,"V1":0.026,"V2":0.12,"V3":0.02,"V4":0.11,"V5":0.03,"V6":0.02},
{"n":1372,"m":"r","D1":0.051,"D2":0.43,"D3":0.41,"AVL":-0.18,"AVF":0.48,"AVR":-0.24,"V1":-0.92,"V2":-2.22,"V3":-1.38,"V4":-0.68,"V5":0.04,"V6":0.27},
{"n":1374,"m":"r","D1":-0.004,"D2":0.4,"D3":0.39,"AVL":-0.17,"AVF":0.45,"AVR":-0.22,"V1":-0.82,"V2":-1.86,"V3":-1.22,"V4":-0.31,"V5":-0.01,"V6":0.19},
{"n":1389,"m":"g","D1":-0.08,"D2":0.38,"D3":0.38,"AVL":-0.18,"AVF":0.47,"AVR":-0.194,"V1":-0.66,"V2":-1.5,"V3":-1.13,"V4":-0.66,"V5":-0.106,"V6":0.22},
{"n":1404,"m":"y","D1":0.019,"D2":0.19,"D3":0.106,"AVL":-0.01,"AVF":0.22,"AVR":-0.13,"V1":-0.31,"V2":-0.52,"V3":-0.37,"V4":-0.13,"V5":0.144,"V6":0.35},
{"n":1415,"m":"m","D1":-0.014,"D2":-0.07,"D3":-0.069,"AVL":0.05,"AVF":-0.06,"AVR":0.043,"V1":0.1,"V2":0.21,"V3":0.08,"V4":0.06,"V5":-0.02,"V6":-0.046},
{"n":1467,"m":"c","D1":-0.01,"D2":-0.095,"D3":-0.088,"AVL":0.05,"AVF":-0.09,"AVR":0.064,"V1":0.25,"V2":0.64,"V3":0.32,"V4":0.14,"V5":-0.02,"V6":-0.07},
{"n":1545,"m":"c","D1":0.02,"D2":0.02,"D3":0.006,"AVL":0,"AVF":0.02,"AVR":-0.034,"V1":0.01,"V2":0.13,"V3":0,"V4":0.06,"V5":0.03,"V6":0.02},
{"n":1882,"m":"r","D1":0.048,"D2":0.47,"D3":0.44,"AVL":-0.19,"AVF":0.46,"AVR":-0.25,"V1":-0.93,"V2":-2.2,"V3":-1.47,"V4":-0.71,"V5":0,"V6":0.31},
{"n":1884,"m":"r","D1":-0.014,"D2":0.44,"D3":0.42,"AVL":-0.18,"AVF":0.4,"AVR":-0.22,"V1":-0.84,"V2":-1.93,"V3":-1.43,"V4":-0.43,"V5":-0.04,"V6":0.245},
{"n":1899,"m":"g","D1":0.043,"D2":0.39,"D3":0.39,"AVL":-0.18,"AVF":0.33,"AVR":-0.197,"V1":-0.64,"V2":-1.42,"V3":-1.08,"V4":-0.69,"V5":-0.106,"V6":0.2},
{"n":1914,"m":"y","D1":0.117,"D2":0.16,"D3":0.075,"AVL":-0.03,"AVF":0.06,"AVR":-0.12,"V1":-0.3,"V2":-0.44,"V3":-0.33,"V4":-0.15,"V5":0.11,"V6":0.32},
{"n":1925,"m":"m","D1":-0.004,"D2":-0.07,"D3":-0.069,"AVL":0.05,"AVF":-0.06,"AVR":0.034,"V1":0.097,"V2":0.23,"V3":0.13,"V4":0.05,"V5":-0.02,"V6":-0.046},
{"n":1977,"m":"c","D1":-0.005,"D2":-0.095,"D3":-0.088,"AVL":0.05,"AVF":-0.09,"AVR":0.055,"V1":0.227,"V2":0.68,"V3":0.38,"V4":0.15,"V5":-0.02,"V6":-0.07},
{"n":2055,"m":"c","D1":0.015,"D2":0.02,"D3":0.006,"AVL":0,"AVF":0.02,"AVR":-0.006,"V1":0.014,"V2":0.08,"V3":0.03,"V4":0.1,"V5":0.03,"V6":0.02},
{"n":2381,"m":"r","D1":0.068,"D2":0.45,"D3":0.42,"AVL":-0.18,"AVF":0.46,"AVR":-0.22,"V1":-0.93,"V2":-2.17,"V3":-1.4,"V4":-0.77,"V5":-0.09,"V6":0.28},
{"n":2383,"m":"r","D1":0.04,"D2":0.42,"D3":0.4,"AVL":-0.17,"AVF":0.41,"AVR":-0.2,"V1":-0.765,"V2":-1.74,"V3":-1.33,"V4":-0.46,"V5":-0.1,"V6":0.18},
{"n":2398,"m":"g","D1":-0.034,"D2":0.38,"D3":0.39,"AVL":-0.17,"AVF":0.4,"AVR":-0.18,"V1":-0.63,"V2":-1.41,"V3":-1.13,"V4":-0.71,"V5":-0.17,"V6":0.2},
{"n":2413,"m":"y","D1":0.12,"D2":0.2,"D3":0.12,"AVL":-0.02,"AVF":0.18,"AVR":-0.13,"V1":-0.3,"V2":-0.51,"V3":-0.36,"V4":-0.16,"V5":0.11,"V6":0.35},
{"n":2424,"m":"m","D1":0.002,"D2":-0.07,"D3":-0.069,"AVL":0.05,"AVF":-0.06,"AVR":0.04,"V1":0.09,"V2":0.2,"V3":0.09,"V4":0.03,"V5":-0.02,"V6":-0.046},
{"n":2476,"m":"c","D1":-0.005,"D2":-0.095,"D3":-0.088,"AVL":0.05,"AVF":-0.09,"AVR":0.05,"V1":0.24,"V2":0.64,"V3":0.35,"V4":0.15,"V5":-0.02,"V6":-0.07},
{"n":2554,"m":"c","D1":0.015,"D2":0.02,"D3":0.006,"AVL":0,"AVF":0.02,"AVR":-0.02,"V1":0.02,"V2":0.1,"V3":0.02,"V4":0.1,"V5":0.03,"V6":0.02},
{"n":2900,"m":"r","D1":0.069,"D2":0.43,"D3":0.39,"AVL":-0.15,"AVF":0.43,"AVR":-0.25,"V1":-0.91,"V2":-2.17,"V3":-1.25,"V4":-0.6,"V5":0.11,"V6":0.28},
{"n":2902,"m":"r","D1":0.04,"D2":0.4,"D3":0.37,"AVL":-0.14,"AVF":0.38,"AVR":-0.23,"V1":-0.81,"V2":-1.87,"V3":-1.22,"V4":-0.48,"V5":0.05,"V6":0.235},
{"n":2917,"m":"g","D1":-0.04,"D2":0.32,"D3":0.3,"AVL":-0.14,"AVF":0.31,"AVR":-0.18,"V1":-0.56,"V2":-1.22,"V3":-0.86,"V4":-0.46,"V5":0.02,"V6":0.25},
{"n":2932,"m":"y","D1":0.156,"D2":0.23,"D3":0.14,"AVL":-0.02,"AVF":0.11,"AVR":-0.12,"V1":-0.37,"V2":-0.61,"V3":-0.4,"V4":-0.13,"V5":0.07,"V6":0.4},
{"n":2943,"m":"m","D1":-0.01,"D2":-0.07,"D3":-0.069,"AVL":0.05,"AVF":-0.06,"AVR":0.04,"V1":0.08,"V2":0.2,"V3":0.07,"V4":0.03,"V5":-0.02,"V6":-0.046},
{"n":2995,"m":"c","D1":-0.005,"D2":-0.095,"D3":-0.088,"AVL":0.05,"AVF":-0.09,"AVR":0.05,"V1":0.24,"V2":0.65,"V3":0.31,"V4":0.1,"V5":-0.02,"V6":-0.07},
{"n":3073,"m":"c","D1":0.015,"D2":0.02,"D3":0.006,"AVL":0,"AVF":0.02,"AVR":-0.02,"V1":0.02,"V2":0.1,"V3":0.02,"V4":0.05,"V5":0.03,"V6":0.02},
{"n":3437,"m":"r","D1":0.07,"D2":0.48,"D3":0.44,"AVL":-0.2,"AVF":0.61,"AVR":-0.26,"V1":-0.93,"V2":-2.17,"V3":-1.36,"V4":-0.73,"V5":0.22,"V6":0.33},
{"n":3439,"m":"r","D1":-0.06,"D2":0.44,"D3":0.42,"AVL":-0.19,"AVF":0.375,"AVR":-0.24,"V1":-0.81,"V2":-1.81,"V3":-1.33,"V4":-0.43,"V5":0,"V6":0.232},
{"n":3454,"m":"g","D1":0.06,"D2":0.35,"D3":0.37,"AVL":-0.18,"AVF":0.29,"AVR":-0.18,"V1":-0.62,"V2":-1.33,"V3":-1.02,"V4":-0.64,"V5":-0.11,"V6":0.2},
{"n":3469,"m":"y","D1":0.12,"D2":0.18,"D3":0.11,"AVL":-0.01,"AVF":0.06,"AVR":-0.12,"V1":-0.29,"V2":-0.49,"V3":-0.36,"V4":-0.15,"V5":0.11,"V6":0.34},
{"n":3480,"m":"m","D1":-0.005,"D2":-0.07,"D3":-0.069,"AVL":0.05,"AVF":-0.06,"AVR":0.04,"V1":0.09,"V2":0.2,"V3":0.13,"V4":0.03,"V5":-0.02,"V6":-0.046},
{"n":3532,"m":"c","D1":-0.005,"D2":-0.095,"D3":-0.088,"AVL":0.05,"AVF":-0.09,"AVR":0.05,"V1":0.24,"V2":0.64,"V3":0.34,"V4":0.16,"V5":-0.02,"V6":-0.07},
{"n":3610,"m":"c","D1":0.015,"D2":0.02,"D3":0.006,"AVL":0,"AVF":0.02,"AVR":-0.02,"V1":0.02,"V2":0.1,"V3":0.02,"V4":0.12,"V5":0.03,"V6":0.05},
{"n":3972,"m":"r","D1":0.1,"D2":0.47,"D3":0.43,"AVL":-0.18,"AVF":0.44,"AVR":-0.25,"V1":-0.91,"V2":-2.13,"V3":-1.43,"V4":-0.79,"V5":0.1,"V6":0.29},
{"n":3974,"m":"r","D1":0.07,"D2":0.43,"D3":0.41,"AVL":-0.17,"AVF":0.4,"AVR":-0.23,"V1":-0.69,"V2":-1.58,"V3":-1.33,"V4":-0.44,"V5":-0.04,"V6":0.186},
{"n":3989,"m":"g","D1":0.06,"D2":0.29,"D3":0.28,"AVL":-0.12,"AVF":0.29,"AVR":-0.16,"V1":-0.49,"V2":-1.04,"V3":-0.89,"V4":-0.55,"V5":-0.09,"V6":0.23},
{"n":4004,"m":"y","D1":0.05,"D2":0.21,"D3":0.12,"AVL":-0.02,"AVF":0.16,"AVR":-0.13,"V1":-0.28,"V2":-0.52,"V3":-0.39,"V4":-0.17,"V5":0.1,"V6":0.33}
]
},
"concat":[
{"title":"D1","width":834,"height":286,"layer":[
{"data":{"name":"sig"},"mark":"line","encoding":{"x":{"field":"n","type":"quantitative","scale":{"domain":[-375,4980],"nice":false,"zero":false},"axis":{"orient":"bottom","title":null,"tickCount":268,"tickSize":2.5,"grid":true,"gridColor":"#ff0000","gridOpacity":{"condition":{"test":"datum.value < 0","value":0},"value":0.22},"tickOpacity":{"condition":{"test":"datum.value < 0","value":0},"value":1}}},"y":{"field":"D1","type":"quantitative","scale":{"domain":[-0.75,0.65],"nice":false,"zero":false},"axis":{"orient":"left","title":null,"values":[-0.75,-0.65,-0.55,-0.45,-0.35,-0.25,-0.15,-0.05,0.05,0.15,0.25,0.35,0.45,0.55,0.65],"tickSize":2.5,"grid":true,"gridColor":"#ff0000","gridOpacity":0.22}}}},
{"data":{"name":"mk"},"mark":"point","encoding":{"x":{"field":"n","type":"quantitative","axis":{"orient":"bottom","title":null,"tickCount":54,"tickSize":5,"grid":true,"gridColor":"#ff0000","gridOpacity":{"condition":{"test":"datum.value < 0","value":0},"value":0.65},"tickOpacity":{"condition":{"test":"datum.value < 0","value":0},"value":1}}},"y":{"field":"D1","type":"quantitative","axis":{"orient":"left","title":"x (mV)","values":[-0.75,-0.25,0.25],"tickSize":5,"grid":true,"gridColor":"#ff0000","gridOpacity":0.65}},"shape":{"field":"m","type":"nominal","scale":{"domain":["r","g","y","m","c"],"range":["triangle-down","triangle-up","triangle-left","triangle-right","circle"]},"legend":null},"color":{"field":"m","type":"nominal","scale":{"domain":["r","g","y","m","c"],"range":["#ff0000","#008000","#bfbf00","#bf00bf","#00bfbf"]},"legend":null}}}
],"resolve":{"axis":{"x":"independent","y":"independent"}}},
{"title":"V1","width":835,"height":286,"layer":[
{"data":{"name":"sig"},"mark":"line","encoding":{"x":{"field":"n","type":"quantitative","scale":{"domain":[-375,4980],"nice":false,"zero":false},"axis":{"orient":"bottom","title":null,"tickCount":268,"tickSize":2.5,"grid":true,"gridColor":"#ff0000","gridOpacity":{"condition":{"test":"datum.value < 0","value":0},"value":0.22},"tickOpacity":{"condition":{"test":"datum.value < 0","value":0},"value":1}}},"y":{"field":"V1","type":"quantitative","scale":{"domain":[-1.0,0.65],"nice":false,"zero":false},"axis":{"orient":"left","title":null,"values":[-0.75,-0.65,-0.55,-0.45,-0.35,-0.25,-0.15,-0.05,0.05,0.15,0.25,0.35,0.45,0.55,0.65],"tickSize":2.5,"grid":true,"gridColor":"#ff0000","gridOpacity":0.22}}}},
{"data":{"name":"mk"},"mark":"point","encoding":{"x":{"field":"n","type":"quantitative","axis":{"orient":"bottom","title":null,"tickCount":54,"tickSize":5,"grid":true,"gridColor":"#ff0000","gridOpacity":{"condition":{"test":"datum.value < 0","value":0},"value":0.65},"tickOpacity":{"condition":{"test":"datum.value < 0","value":0},"value":1}}},"y":{"field":"V1","type":"quantitative","axis":{"orient":"left","title":"x (mV)","values":[-0.75,-0.25,0.25],"tickSize":5,"grid":true,"gridColor":"#ff0000","gridOpacity":0.65}},"shape":{"field":"m","type":"nominal","scale":{"domain":["r","g","y","m","c"],"range":["triangle-down","triangle-up","triangle-left","triangle-right","circle"]},"legend":null},"color":{"field":"m","type":"nominal","scale":{"domain":["r","g","y","m","c"],"range":["#ff0000","#008000","#bfbf00","#bf00bf","#00bfbf"]},"legend":null}}}
],"resolve":{"axis":{"x":"independent","y":"independent"}}},
{"title":"D2","width":834,"height":286,"layer":[
{"data":{"name":"sig"},"mark":"line","encoding":{"x":{"field":"n","type":"quantitative","scale":{"domain":[-375,4980],"nice":false,"zero":false},"axis":{"orient":"bottom","title":null,"tickCount":268,"tickSize":2.5,"grid":true,"gridColor":"#ff0000","gridOpacity":{"condition":{"test":"datum.value < 0","value":0},"value":0.22},"tickOpacity":{"condition":{"test":"datum.value < 0","value":0},"value":1}}},"y":{"field":"D2","type":"quantitative","scale":{"domain":[-0.75,0.65],"nice":false,"zero":false},"axis":{"orient":"left","title":null,"values":[-0.75,-0.65,-0.55,-0.45,-0.35,-0.25,-0.15,-0.05,0.05,0.15,0.25,0.35,0.45,0.55,0.65],"tickSize":2.5,"grid":true,"gridColor":"#ff0000","gridOpacity":0.22}}}},
{"data":{"name":"mk"},"mark":"point","encoding":{"x":{"field":"n","type":"quantitative","axis":{"orient":"bottom","title":null,"tickCount":54,"tickSize":5,"grid":true,"gridColor":"#ff0000","gridOpacity":{"condition":{"test":"datum.value < 0","value":0},"value":0.65},"tickOpacity":{"condition":{"test":"datum.value < 0","value":0},"value":1}}},"y":{"field":"D2","type":"quantitative","axis":{"orient":"left","title":null,"values":[-0.75,-0.25,0.25],"tickSize":5,"grid":true,"gridColor":"#ff0000","gridOpacity":0.65}},"shape":{"field":"m","type":"nominal","scale":{"domain":["r","g","y","m","c"],"range":["triangle-down","triangle-up","triangle-left","triangle-right","circle"]},"legend":null},"color":{"field":"m","type":"nominal","scale":{"domain":["r","g","y","m","c"],"range":["#ff0000","#008000","#bfbf00","#bf00bf","#00bfbf"]},"legend":null}}}
],"resolve":{"axis":{"x":"independent","y":"independent"}}},
{"title":"V2","width":835,"height":286,"layer":[
{"data":{"name":"sig"},"mark":"line","encoding":{"x":{"field":"n","type":"quantitative","scale":{"domain":[-375,4980],"nice":false,"zero":false},"axis":{"orient":"bottom","title":null,"tickCount":268,"tickSize":2.5,"grid":true,"gridColor":"#ff0000","gridOpacity":{"condition":{"test":"datum.value < 0","value":0},"value":0.22},"tickOpacity":{"condition":{"test":"datum.value < 0","value":0},"value":1}}},"y":{"field":"V2","type":"quantitative","scale":{"domain":[-2.37,0.89],"nice":false,"zero":false},"axis":{"orient":"left","title":null,"values":[-0.75,-0.65,-0.55,-0.45,-0.35,-0.25,-0.15,-0.05,0.05,0.15,0.25,0.35,0.45,0.55,0.65],"tickSize":2.5,"grid":true,"gridColor":"#ff0000","gridOpacity":0.22}}}},
{"data":{"name":"mk"},"mark":"point","encoding":{"x":{"field":"n","type":"quantitative","axis":{"orient":"bottom","title":null,"tickCount":54,"tickSize":5,"grid":true,"gridColor":"#ff0000","gridOpacity":{"condition":{"test":"datum.value < 0","value":0},"value":0.65},"tickOpacity":{"condition":{"test":"datum.value < 0","value":0},"value":1}}},"y":{"field":"V2","type":"quantitative","axis":{"orient":"left","title":null,"values":[-0.75,-0.25,0.25],"tickSize":5,"grid":true,"gridColor":"#ff0000","gridOpacity":0.65}},"shape":{"field":"m","type":"nominal","scale":{"domain":["r","g","y","m","c"],"range":["triangle-down","triangle-up","triangle-left","triangle-right","circle"]},"legend":null},"color":{"field":"m","type":"nominal","scale":{"domain":["r","g","y","m","c"],"range":["#ff0000","#008000","#bfbf00","#bf00bf","#00bfbf"]},"legend":null}}}
],"resolve":{"axis":{"x":"independent","y":"independent"}}},
{"title":"D3","width":834,"height":286,"layer":[
{"data":{"name":"sig"},"mark":"line","encoding":{"x":{"field":"n","type":"quantitative","scale":{"domain":[-375,4980],"nice":false,"zero":false},"axis":{"orient":"bottom","title":null,"tickCount":268,"tickSize":2.5,"grid":true,"gridColor":"#ff0000","gridOpacity":{"condition":{"test":"datum.value < 0","value":0},"value":0.22},"tickOpacity":{"condition":{"test":"datum.value < 0","value":0},"value":1}}},"y":{"field":"D3","type":"quantitative","scale":{"domain":[-0.75,0.65],"nice":false,"zero":false},"axis":{"orient":"left","title":null,"values":[-0.75,-0.65,-0.55,-0.45,-0.35,-0.25,-0.15,-0.05,0.05,0.15,0.25,0.35,0.45,0.55,0.65],"tickSize":2.5,"grid":true,"gridColor":"#ff0000","gridOpacity":0.22}}}},
{"data":{"name":"mk"},"mark":"point","encoding":{"x":{"field":"n","type":"quantitative","axis":{"orient":"bottom","title":null,"tickCount":54,"tickSize":5,"grid":true,"gridColor":"#ff0000","gridOpacity":{"condition":{"test":"datum.value < 0","value":0},"value":0.65},"tickOpacity":{"condition":{"test":"datum.value < 0","value":0},"value":1}}},"y":{"field":"D3","type":"quantitative","axis":{"orient":"left","title":null,"values":[-0.75,-0.25,0.25],"tickSize":5,"grid":true,"gridColor":"#ff0000","gridOpacity":0.65}},"shape":{"field":"m","type":"nominal","scale":{"domain":["r","g","y","m","c"],"range":["triangle-down","triangle-up","triangle-left","triangle-right","circle"]},"legend":null},"color":{"field":"m","type":"nominal","scale":{"domain":["r","g","y","m","c"],"range":["#ff0000","#008000","#bfbf00","#bf00bf","#00bfbf"]},"legend":null}}}
],"resolve":{"axis":{"x":"independent","y":"independent"}}},
{"title":"V3","width":835,"height":286,"layer":[
{"data":{"name":"sig"},"mark":"line","encoding":{"x":{"field":"n","type":"quantitative","scale":{"domain":[-375,4980],"nice":false,"zero":false},"axis":{"orient":"bottom","title":null,"tickCount":268,"tickSize":2.5,"grid":true,"gridColor":"#ff0000","gridOpacity":{"condition":{"test":"datum.value < 0","value":0},"value":0.22},"tickOpacity":{"condition":{"test":"datum.value < 0","value":0},"value":1}}},"y":{"field":"V3","type":"quantitative","scale":{"domain":[-1.67,0.65],"nice":false,"zero":false},"axis":{"orient":"left","title":null,"values":[-0.75,-0.65,-0.55,-0.45,-0.35,-0.25,-0.15,-0.05,0.05,0.15,0.25,0.35,0.45,0.55,0.65],"tickSize":2.5,"grid":true,"gridColor":"#ff0000","gridOpacity":0.22}}}},
{"data":{"name":"mk"},"mark":"point","encoding":{"x":{"field":"n","type":"quantitative","axis":{"orient":"bottom","title":null,"tickCount":54,"tickSize":5,"grid":true,"gridColor":"#ff0000","gridOpacity":{"condition":{"test":"datum.value < 0","value":0},"value":0.65},"tickOpacity":{"condition":{"test":"datum.value < 0","value":0},"value":1}}},"y":{"field":"V3","type":"quantitative","axis":{"orient":"left","title":null,"values":[-0.75,-0.25,0.25],"tickSize":5,"grid":true,"gridColor":"#ff0000","gridOpacity":0.65}},"shape":{"field":"m","type":"nominal","scale":{"domain":["r","g","y","m","c"],"range":["triangle-down","triangle-up","triangle-left","triangle-right","circle"]},"legend":null},"color":{"field":"m","type":"nominal","scale":{"domain":["r","g","y","m","c"],"range":["#ff0000","#008000","#bfbf00","#bf00bf","#00bfbf"]},"legend":null}}}
],"resolve":{"axis":{"x":"independent","y":"independent"}}},
{"title":"AVL","width":834,"height":286,"layer":[
{"data":{"name":"sig"},"mark":"line","encoding":{"x":{"field":"n","type":"quantitative","scale":{"domain":[-375,4980],"nice":false,"zero":false},"axis":{"orient":"bottom","title":null,"tickCount":268,"tickSize":2.5,"grid":true,"gridColor":"#ff0000","gridOpacity":{"condition":{"test":"datum.value < 0","value":0},"value":0.22},"tickOpacity":{"condition":{"test":"datum.value < 0","value":0},"value":1}}},"y":{"field":"AVL","type":"quantitative","scale":{"domain":[-0.75,0.65],"nice":false,"zero":false},"axis":{"orient":"left","title":null,"values":[-0.75,-0.65,-0.55,-0.45,-0.35,-0.25,-0.15,-0.05,0.05,0.15,0.25,0.35,0.45,0.55,0.65],"tickSize":2.5,"grid":true,"gridColor":"#ff0000","gridOpacity":0.22}}}},
{"data":{"name":"mk"},"mark":"point","encoding":{"x":{"field":"n","type":"quantitative","axis":{"orient":"bottom","title":null,"tickCount":54,"tickSize":5,"grid":true,"gridColor":"#ff0000","gridOpacity":{"condition":{"test":"datum.value < 0","value":0},"value":0.65},"tickOpacity":{"condition":{"test":"datum.value < 0","value":0},"value":1}}},"y":{"field":"AVL","type":"quantitative","axis":{"orient":"left","title":null,"values":[-0.75,-0.25,0.25],"tickSize":5,"grid":true,"gridColor":"#ff0000","gridOpacity":0.65}},"shape":{"field":"m","type":"nominal","scale":{"domain":["r","g","y","m","c"],"range":["triangle-down","triangle-up","triangle-left","triangle-right","circle"]},"legend":null},"color":{"field":"m","type":"nominal","scale":{"domain":["r","g","y","m","c"],"range":["#ff0000","#008000","#bfbf00","#bf00bf","#00bfbf"]},"legend":null}}}
],"resolve":{"axis":{"x":"independent","y":"independent"}}},
{"title":"V4","width":835,"height":286,"layer":[
{"data":{"name":"sig"},"mark":"line","encoding":{"x":{"field":"n","type":"quantitative","scale":{"domain":[-375,4980],"nice":false,"zero":false},"axis":{"orient":"bottom","title":null,"tickCount":268,"tickSize":2.5,"grid":true,"gridColor":"#ff0000","gridOpacity":{"condition":{"test":"datum.value < 0","value":0},"value":0.22},"tickOpacity":{"condition":{"test":"datum.value < 0","value":0},"value":1}}},"y":{"field":"V4","type":"quantitative","scale":{"domain":[-0.85,0.65],"nice":false,"zero":false},"axis":{"orient":"left","title":null,"values":[-0.75,-0.65,-0.55,-0.45,-0.35,-0.25,-0.15,-0.05,0.05,0.15,0.25,0.35,0.45,0.55,0.65],"tickSize":2.5,"grid":true,"gridColor":"#ff0000","gridOpacity":0.22}}}},
{"data":{"name":"mk"},"mark":"point","encoding":{"x":{"field":"n","type":"quantitative","axis":{"orient":"bottom","title":null,"tickCount":54,"tickSize":5,"grid":true,"gridColor":"#ff0000","gridOpacity":{"condition":{"test":"datum.value < 0","value":0},"value":0.65},"tickOpacity":{"condition":{"test":"datum.value < 0","value":0},"value":1}}},"y":{"field":"V4","type":"quantitative","axis":{"orient":"left","title":null,"values":[-0.75,-0.25,0.25],"tickSize":5,"grid":true,"gridColor":"#ff0000","gridOpacity":0.65}},"shape":{"field":"m","type":"nominal","scale":{"domain":["r","g","y","m","c"],"range":["triangle-down","triangle-up","triangle-left","triangle-right","circle"]},"legend":null},"color":{"field":"m","type":"nominal","scale":{"domain":["r","g","y","m","c"],"range":["#ff0000","#008000","#bfbf00","#bf00bf","#00bfbf"]},"legend":null}}}
],"resolve":{"axis":{"x":"independent","y":"independent"}}},
{"title":"AVF","width":834,"height":286,"layer":[
{"data":{"name":"sig"},"mark":"line","encoding":{"x":{"field":"n","type":"quantitative","scale":{"domain":[-375,4980],"nice":false,"zero":false},"axis":{"orient":"bottom","title":null,"tickCount":268,"tickSize":2.5,"grid":true,"gridColor":"#ff0000","gridOpacity":{"condition":{"test":"datum.value < 0","value":0},"value":0.22},"tickOpacity":{"condition":{"test":"datum.value < 0","value":0},"value":1}}},"y":{"field":"AVF","type":"quantitative","scale":{"domain":[-0.75,0.65],"nice":false,"zero":false},"axis":{"orient":"left","title":null,"values":[-0.75,-0.65,-0.55,-0.45,-0.35,-0.25,-0.15,-0.05,0.05,0.15,0.25,0.35,0.45,0.55,0.65],"tickSize":2.5,"grid":true,"gridColor":"#ff0000","gridOpacity":0.22}}}},
{"data":{"name":"mk"},"mark":"point","encoding":{"x":{"field":"n","type":"quantitative","axis":{"orient":"bottom","title":null,"tickCount":54,"tickSize":5,"grid":true,"gridColor":"#ff0000","gridOpacity":{"condition":{"test":"datum.value < 0","value":0},"value":0.65},"tickOpacity":{"condition":{"test":"datum.value < 0","value":0},"value":1}}},"y":{"field":"AVF","type":"quantitative","axis":{"orient":"left","title":null,"values":[-0.75,-0.25,0.25],"tickSize":5,"grid":true,"gridColor":"#ff0000","gridOpacity":0.65}},"shape":{"field":"m","type":"nominal","scale":{"domain":["r","g","y","m","c"],"range":["triangle-down","triangle-up","triangle-left","triangle-right","circle"]},"legend":null},"color":{"field":"m","type":"nominal","scale":{"domain":["r","g","y","m","c"],"range":["#ff0000","#008000","#bfbf00","#bf00bf","#00bfbf"]},"legend":null}}}
],"resolve":{"axis":{"x":"independent","y":"independent"}}},
{"title":"V5","width":835,"height":286,"layer":[
{"data":{"name":"sig"},"mark":"line","encoding":{"x":{"field":"n","type":"quantitative","scale":{"domain":[-375,4980],"nice":false,"zero":false},"axis":{"orient":"bottom","title":null,"tickCount":268,"tickSize":2.5,"grid":true,"gridColor":"#ff0000","gridOpacity":{"condition":{"test":"datum.value < 0","value":0},"value":0.22},"tickOpacity":{"condition":{"test":"datum.value < 0","value":0},"value":1}}},"y":{"field":"V5","type":"quantitative","scale":{"domain":[-0.75,0.65],"nice":false,"zero":false},"axis":{"orient":"left","title":null,"values":[-0.75,-0.65,-0.55,-0.45,-0.35,-0.25,-0.15,-0.05,0.05,0.15,0.25,0.35,0.45,0.55,0.65],"tickSize":2.5,"grid":true,"gridColor":"#ff0000","gridOpacity":0.22}}}},
{"data":{"name":"mk"},"mark":"point","encoding":{"x":{"field":"n","type":"quantitative","axis":{"orient":"bottom","title":null,"tickCount":54,"tickSize":5,"grid":true,"gridColor":"#ff0000","gridOpacity":{"condition":{"test":"datum.value < 0","value":0},"value":0.65},"tickOpacity":{"condition":{"test":"datum.value < 0","value":0},"value":1}}},"y":{"field":"V5","type":"quantitative","axis":{"orient":"left","title":null,"values":[-0.75,-0.25,0.25],"tickSize":5,"grid":true,"gridColor":"#ff0000","gridOpacity":0.65}},"shape":{"field":"m","type":"nominal","scale":{"domain":["r","g","y","m","c"],"range":["triangle-down","triangle-up","triangle-left","triangle-right","circle"]},"legend":null},"color":{"field":"m","type":"nominal","scale":{"domain":["r","g","y","m","c"],"range":["#ff0000","#008000","#bfbf00","#bf00bf","#00bfbf"]},"legend":null}}}
],"resolve":{"axis":{"x":"independent","y":"independent"}}},
{"title":"AVR","width":834,"height":286,"layer":[
{"data":{"name":"sig"},"mark":"line","encoding":{"x":{"field":"n","type":"quantitative","scale":{"domain":[-375,4980],"nice":false,"zero":false},"axis":{"orient":"bottom","title":null,"tickCount":268,"tickSize":2.5,"grid":true,"gridColor":"#ff0000","gridOpacity":{"condition":{"test":"datum.value < 0","value":0},"value":0.22},"tickOpacity":{"condition":{"test":"datum.value < 0","value":0},"value":1}}},"y":{"field":"AVR","type":"quantitative","scale":{"domain":[-0.75,0.65],"nice":false,"zero":false},"axis":{"orient":"left","title":null,"values":[-0.75,-0.65,-0.55,-0.45,-0.35,-0.25,-0.15,-0.05,0.05,0.15,0.25,0.35,0.45,0.55,0.65],"tickSize":2.5,"grid":true,"gridColor":"#ff0000","gridOpacity":0.22}}}},
{"data":{"name":"mk"},"mark":"point","encoding":{"x":{"field":"n","type":"quantitative","axis":{"orient":"bottom","title":null,"tickCount":54,"tickSize":5,"grid":true,"gridColor":"#ff0000","gridOpacity":{"condition":{"test":"datum.value < 0","value":0},"value":0.65},"tickOpacity":{"condition":{"test":"datum.value < 0","value":0},"value":1}}},"y":{"field":"AVR","type":"quantitative","axis":{"orient":"left","title":null,"values":[-0.75,-0.25,0.25],"tickSize":5,"grid":true,"gridColor":"#ff0000","gridOpacity":0.65}},"shape":{"field":"m","type":"nominal","scale":{"domain":["r","g","y","m","c"],"range":["triangle-down","triangle-up","triangle-left","triangle-right","circle"]},"legend":null},"color":{"field":"m","type":"nominal","scale":{"domain":["r","g","y","m","c"],"range":["#ff0000","#008000","#bfbf00","#bf00bf","#00bfbf"]},"legend":null}}}
],"resolve":{"axis":{"x":"independent","y":"independent"}}},
{"title":"V6","width":835,"height":286,"layer":[
{"data":{"name":"sig"},"mark":"line","encoding":{"x":{"field":"n","type":"quantitative","scale":{"domain":[-375,4980],"nice":false,"zero":false},"axis":{"orient":"bottom","title":null,"tickCount":268,"tickSize":2.5,"grid":true,"gridColor":"#ff0000","gridOpacity":{"condition":{"test":"datum.value < 0","value":0},"value":0.22},"tickOpacity":{"condition":{"test":"datum.value < 0","value":0},"value":1}}},"y":{"field":"V6","type":"quantitative","scale":{"domain":[-0.75,0.65],"nice":false,"zero":false},"axis":{"orient":"left","title":null,"values":[-0.75,-0.65,-0.55,-0.45,-0.35,-0.25,-0.15,-0.05,0.05,0.15,0.25,0.35,0.45,0.55,0.65],"tickSize":2.5,"grid":true,"gridColor":"#ff0000","gridOpacity":0.22}}}},
{"data":{"name":"mk"},"mark":"point","encoding":{"x":{"field":"n","type":"quantitative","axis":{"orient":"bottom","title":null,"tickCount":54,"tickSize":5,"grid":true,"gridColor":"#ff0000","gridOpacity":{"condition":{"test":"datum.value < 0","value":0},"value":0.65},"tickOpacity":{"condition":{"test":"datum.value < 0","value":0},"value":1}}},"y":{"field":"V6","type":"quantitative","axis":{"orient":"left","title":null,"values":[-0.75,-0.25,0.25],"tickSize":5,"grid":true,"gridColor":"#ff0000","gridOpacity":0.65}},"shape":{"field":"m","type":"nominal","scale":{"domain":["r","g","y","m","c"],"range":["triangle-down","triangle-up","triangle-left","triangle-right","circle"]},"legend":null},"color":{"field":"m","type":"nominal","scale":{"domain":["r","g","y","m","c"],"range":["#ff0000","#008000","#bfbf00","#bf00bf","#00bfbf"]},"legend":null}}}
],"resolve":{"axis":{"x":"independent","y":"independent"}}}
]
}
